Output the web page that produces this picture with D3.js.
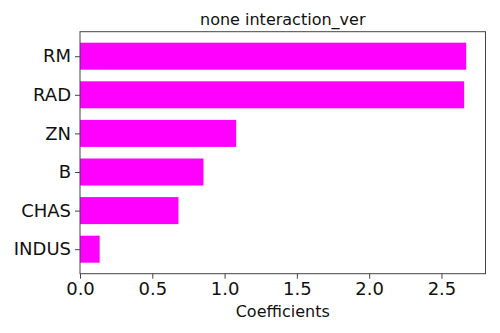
<!DOCTYPE html>
<html>
<head>
<meta charset="utf-8">
<script src="https://cdn.jsdelivr.net/npm/d3@7"></script>
<style>
  html, body { margin: 0; padding: 0; background: #fff; }
  svg { display: block; font-family: "DejaVu Sans", sans-serif; }
</style>
</head>
<body>
<svg id="chart" width="500" height="333"></svg>
<script>
// Features, bottom to top
const features = ["INDUS", "CHAS", "B", "ZN", "RAD", "RM"];
const coefficients = [0.136, 0.681, 0.854, 1.080, 2.657, 2.671];
const xTicks = [0, 0.5, 1.0, 1.5, 2.0, 2.5];
const titleText = "none interaction_ver";
const xLabelText = "Coefficients";

const svg = d3.select("#chart");
const plot = { left: 80, right: 485.5, top: 31.7, bottom: 273.7 };

const xMax = d3.max(coefficients) * 1.05;
const x = d3.scaleLinear().domain([0, xMax]).range([plot.left, plot.right]);

const barH = 0.7;
const yPad = (features.length - 1 + barH) * 0.05;
const y = d3.scaleLinear()
  .domain([-barH / 2 - yPad, features.length - 1 + barH / 2 + yPad])
  .range([plot.bottom, plot.top]);

// Bars
svg.append("g")
  .selectAll("rect")
  .data(features)
  .join("rect")
  .attr("x", x(0))
  .attr("y", (d, i) => y(i + barH / 2))
  .attr("width", (d, i) => x(coefficients[i]) - x(0))
  .attr("height", (d, i) => y(i - barH / 2) - y(i + barH / 2))
  .attr("fill", "#ff00ff");

// Frame
svg.append("rect")
  .attr("x", plot.left)
  .attr("y", plot.top)
  .attr("width", plot.right - plot.left)
  .attr("height", plot.bottom - plot.top)
  .attr("fill", "none")
  .attr("stroke", "#444")
  .attr("stroke-width", 1);

// X axis
const xAxis = svg.append("g")
  .attr("transform", `translate(0,${plot.bottom})`)
  .call(d3.axisBottom(x).tickValues(xTicks).tickFormat(d3.format(".1f")).tickSize(5).tickPadding(4));
xAxis.select(".domain").remove();
xAxis.selectAll("line").attr("stroke", "#444");
xAxis.selectAll("text")
  .attr("fill", "#111")
  .style("font-size", "18px")
  .style("font-family", "'DejaVu Sans', sans-serif");

// Y axis
const yAxis = svg.append("g")
  .attr("transform", `translate(${plot.left},0)`)
  .call(d3.axisLeft(y).tickValues(d3.range(features.length)).tickFormat(i => features[i]).tickSize(5).tickPadding(4));
yAxis.select(".domain").remove();
yAxis.selectAll("line").attr("stroke", "#444");
yAxis.selectAll("text")
  .attr("fill", "#111")
  .style("font-size", "18px")
  .style("font-family", "'DejaVu Sans', sans-serif");

// Title
svg.append("text")
  .attr("x", (plot.left + plot.right) / 2)
  .attr("y", 25)
  .attr("text-anchor", "middle")
  .attr("fill", "#111")
  .style("font-size", "16px")
  .text(titleText);

// X label
svg.append("text")
  .attr("x", (plot.left + plot.right) / 2)
  .attr("y", 316.5)
  .attr("text-anchor", "middle")
  .attr("fill", "#111")
  .style("font-size", "16px")
  .text(xLabelText);
</script>
</body>
</html>
